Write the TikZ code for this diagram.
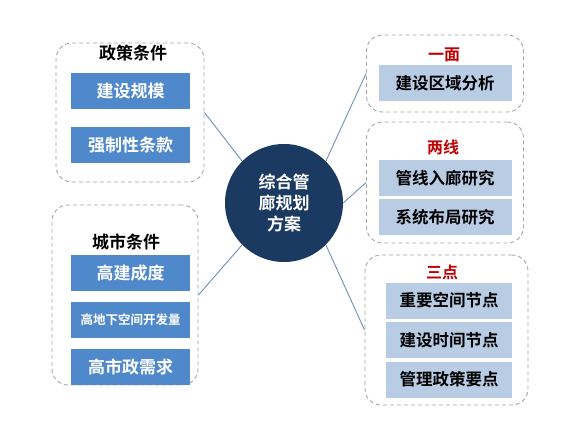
\documentclass[tikz,border=0pt]{standalone}
\usepackage{fontspec}
\setmainfont{Noto Sans CJK SC}[BoldFont={Noto Sans CJK SC Bold}]
\usepackage{xcolor}
\definecolor{hubnavy}{HTML}{1B3A62}
\definecolor{itemblue}{HTML}{5088CC}
\definecolor{itemlight}{HTML}{B8CCE4}
\definecolor{titlered}{HTML}{C00000}
\definecolor{tgray}{HTML}{A6A6A6}
\definecolor{linkblue}{HTML}{7090BC}
\usepackage{tikz}

\begin{document}
\begin{tikzpicture}[
  x=1pt, y=-1pt,
  group/.style={
    rectangle, rounded corners=16pt,
    draw=tgray, dash pattern=on 4pt off 3pt,
    line width=0.9pt
  },
  leftitem/.style={
    rectangle, fill=itemblue, text=white, inner sep=0pt,
    minimum width=119pt, minimum height=36pt,
    font=\bfseries\fontsize{17}{20}\selectfont
  },
  rightitem/.style={
    rectangle, fill=itemlight, text=black, inner sep=0pt,
    minimum width=#1, minimum height=36pt,
    font=\bfseries\fontsize{16.5}{20}\selectfont
  },
  title/.style={inner sep=0pt, font=\bfseries\fontsize{17}{20}\selectfont},
  redtitle/.style={title, text=titlered, font=\bfseries\fontsize{16}{20}\selectfont},
  link/.style={draw=linkblue, line width=0.9pt}
]
\path[fill=white, use as bounding box] (0,0) rectangle (572,438);

\node[group, minimum width=148pt, minimum height=139pt] (grpA) at (130,112.5) {};
\node[group, minimum width=146pt, minimum height=180pt] (grpB) at (125,295) {};
\node[group, minimum width=157pt, minimum height=77pt] (grpC) at (445,73.5) {};
\node[group, minimum width=157pt, minimum height=121pt] (grpD) at (445,182.5) {};
\node[group, minimum width=163pt, minimum height=150pt] (grpE) at (446.5,330) {};

\node[title] (titleA) at (133,53) {政策条件};
\node[leftitem] (scale) at (130.5,91) {建设规模};
\node[leftitem] (clause) at (130.5,145) {强制性条款};

\node[title] (titleB) at (126,242) {城市条件};
\node[leftitem] (density) at (130.5,273) {高建成度};
\node[leftitem, font=\bfseries\fontsize{12.5}{15}\selectfont] (under) at (130.5,319.5) {高地下空间开发量};
\node[leftitem] (demand) at (130.5,367) {高市政需求};

\node[redtitle] (titleC) at (444,55) {一面};
\node[rightitem=133pt] (region) at (445,83) {建设区域分析};

\node[redtitle] (titleD) at (443,147) {两线};
\node[rightitem=133pt] (entry) at (445,178.5) {管线入廊研究};
\node[rightitem=133pt] (layout) at (445,217) {系统布局研究};

\node[redtitle] (titleE) at (442,272) {三点};
\node[rightitem=126pt] (space) at (449,300.5) {重要空间节点};
\node[rightitem=126pt] (time) at (449,340) {建设时间节点};
\node[rightitem=126pt] (policy) at (449,379.5) {管理政策要点};

\node[circle, fill=hubnavy, text=white, minimum size=118pt, inner sep=0pt,
  align=center, font=\bfseries\fontsize{17}{21}\selectfont] (hub) at (284,203)
  {综合管\\廊规划\\方案};

\foreach \a/\g in {135/grpA.east, 225/grpB.east, 45/grpC.west, 0/grpD.west, 315/grpE.west} {
  \draw[link] (hub.\a) -- (\g);
}
\end{tikzpicture}
\end{document}
